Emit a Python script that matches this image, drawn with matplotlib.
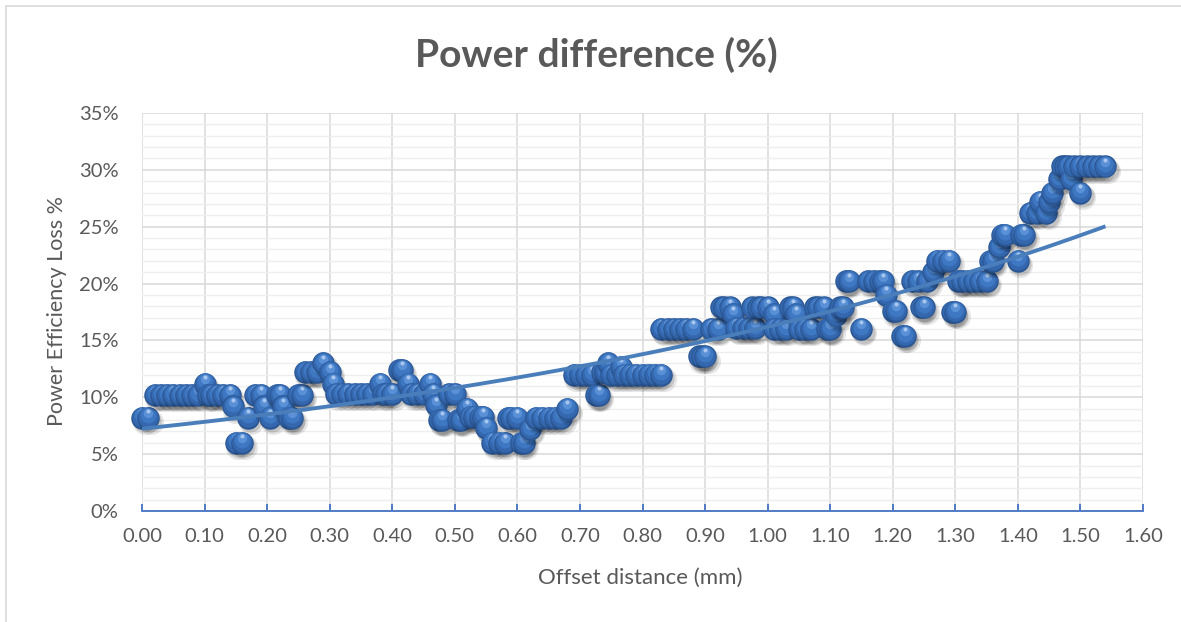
import matplotlib
matplotlib.use("Agg")
import matplotlib.pyplot as plt
import numpy as np
from matplotlib.ticker import MultipleLocator, PercentFormatter
from matplotlib.transforms import offset_copy
from matplotlib.patches import Rectangle

# offset distance (mm) and measured power efficiency loss (%)
offset_mm = [
    0.00, 0.01, 0.02, 0.03, 0.04, 0.05, 0.06, 0.07, 0.08, 0.09,
    0.10, 0.105, 0.11, 0.12, 0.13, 0.14, 0.145, 0.15, 0.16,
    0.17, 0.18, 0.19, 0.195, 0.205, 0.215, 0.22, 0.225, 0.235, 0.24,
    0.25, 0.255, 0.26, 0.27, 0.28, 0.29, 0.30, 0.305,
    0.31, 0.32, 0.33, 0.34, 0.35, 0.36, 0.37, 0.38, 0.385, 0.39, 0.40,
    0.41, 0.415, 0.425, 0.43, 0.44, 0.45, 0.46, 0.465, 0.47, 0.475, 0.48,
    0.49, 0.50, 0.505, 0.51, 0.52, 0.525, 0.53, 0.54, 0.545,
    0.55, 0.56, 0.57, 0.58, 0.585, 0.59, 0.60, 0.605, 0.61, 0.62,
    0.63, 0.64, 0.65, 0.66, 0.67, 0.68, 0.69, 0.70, 0.71, 0.72,
    0.725, 0.73, 0.735, 0.74, 0.745, 0.75, 0.76, 0.765,
    0.77, 0.78, 0.79, 0.80, 0.81, 0.82, 0.83,
    0.83, 0.84, 0.85, 0.86, 0.87, 0.88, 0.89, 0.895, 0.90, 0.91, 0.92,
    0.925, 0.93, 0.94, 0.945, 0.95, 0.96, 0.97, 0.98,
    0.975, 0.985, 0.99, 1.00, 1.01, 1.01, 1.02, 1.03,
    1.035, 1.04, 1.045, 1.05, 1.06, 1.07, 1.075, 1.08, 1.09,
    1.095, 1.10, 1.11, 1.115, 1.12, 1.125, 1.13, 1.15,
    1.16, 1.17, 1.18, 1.185, 1.19, 1.20, 1.205, 1.215, 1.22,
    1.23, 1.24, 1.245, 1.25, 1.255, 1.265, 1.27, 1.28, 1.29, 1.295, 1.30,
    1.305, 1.31, 1.32, 1.33, 1.34, 1.35, 1.355, 1.36, 1.37,
    1.375, 1.38, 1.40, 1.405, 1.41, 1.42, 1.43, 1.435, 1.445, 1.45, 1.455,
    1.465, 1.47, 1.475, 1.48, 1.485, 1.50,
    1.49, 1.50, 1.51, 1.52, 1.53, 1.54,
]
loss_pct = [
    8.2, 8.2, 10.2, 10.2, 10.2, 10.2, 10.2, 10.2, 10.2, 10.2,
    11.2, 10.2, 10.2, 10.2, 10.2, 10.2, 9.2, 6.0, 6.0,
    8.2, 10.2, 10.2, 9.2, 8.2, 10.2, 10.2, 9.2, 8.2, 8.2,
    10.2, 10.2, 12.2, 12.2, 12.2, 13.0, 12.2, 11.2,
    10.3, 10.3, 10.3, 10.3, 10.3, 10.3, 10.3, 11.2, 10.3, 10.3, 10.3,
    12.4, 12.4, 11.2, 10.3, 10.3, 10.3, 11.2, 10.3, 9.3, 8.0, 8.0,
    10.3, 10.3, 8.0, 8.0, 9.0, 8.3, 8.3, 8.3, 8.3,
    7.3, 6.0, 6.0, 6.0, 8.2, 8.2, 8.2, 6.0, 6.0, 7.2,
    8.2, 8.2, 8.2, 8.2, 8.2, 9.0, 12.0, 12.0, 12.0, 12.0,
    10.2, 10.2, 12.2, 12.2, 13.0, 12.0, 12.0, 12.7,
    12.0, 12.0, 12.0, 12.0, 12.0, 12.0, 12.0,
    16.0, 16.0, 16.0, 16.0, 16.0, 16.0, 13.6, 13.6, 13.6, 16.0, 16.0,
    17.9, 17.9, 17.9, 17.3, 16.1, 16.1, 16.1, 16.1,
    17.9, 17.9, 17.9, 17.9, 17.3, 16.0, 16.0, 16.0,
    17.9, 17.9, 17.3, 16.0, 16.0, 16.0, 17.9, 17.9, 17.9,
    16.0, 16.0, 17.2, 17.9, 17.9, 20.2, 20.2, 16.0,
    20.2, 20.2, 20.2, 20.2, 19.0, 17.6, 17.6, 15.4, 15.4,
    20.2, 20.2, 17.9, 17.9, 20.2, 21.0, 22.0, 22.0, 22.0, 17.5, 17.5,
    20.2, 20.2, 20.2, 20.2, 20.2, 20.2, 22.0, 22.0, 23.2,
    24.3, 24.3, 22.0, 24.3, 24.3, 26.2, 26.2, 27.2, 26.2, 27.2, 28.0,
    29.2, 30.3, 30.3, 30.3, 29.2, 28.0,
    30.3, 30.3, 30.3, 30.3, 30.3, 30.3,
]

x_ticks = [0.0, 0.1, 0.2, 0.3, 0.4, 0.5, 0.6, 0.7, 0.8, 0.9,
           1.0, 1.1, 1.2, 1.3, 1.4, 1.5, 1.6]

GRAY = "#595959"
FONT = "Lato"

W, H = 1181, 622
fig = plt.figure(figsize=(W / 100, H / 100), dpi=100)
ax = fig.add_axes([142 / W, 1 - 511 / H, (1143 - 142) / W, (511 - 113) / H])

ax.set_xlim(0, 1.6)
ax.set_ylim(0, 35)
ax.set_xticks(x_ticks)
ax.set_xticklabels([f"{t:.2f}" for t in x_ticks])
ax.yaxis.set_major_locator(MultipleLocator(5))
ax.yaxis.set_minor_locator(MultipleLocator(1))
ax.yaxis.set_major_formatter(PercentFormatter(xmax=100, decimals=0))

ax.grid(which="major", axis="both", color="#d9d9d9", lw=1.1, zorder=0)
ax.grid(which="minor", axis="y", color="#eeeeee", lw=1.0, zorder=0)
ax.set_axisbelow(True)

for side in ["top", "right", "left"]:
    ax.spines[side].set_visible(False)
ax.spines["bottom"].set_color("#4472c4")
ax.spines["bottom"].set_linewidth(1.3)
ax.spines["bottom"].set_zorder(1)

ax.tick_params(axis="x", which="major", direction="in", length=5, width=1.3,
               color="#4472c4", pad=12, labelsize=14.5, labelcolor=GRAY)
ax.tick_params(axis="y", which="both", length=0, pad=17, labelsize=14.5,
               labelcolor=GRAY)
for lab in ax.get_xticklabels() + ax.get_yticklabels():
    lab.set_fontfamily(FONT)

# sphere-like markers: shadow, body, shading, highlight (in points)
layers = [
    # color, diameter, dx, dy
    ((0, 0, 0, 0.10), 18.0, 1.8, -3.0),
    ((0, 0, 0, 0.14), 16.0, 1.5, -2.6),
    ("#2a5693", 16.2, 0, 0),
    ("#3467ad", 14.6, 0, 0.6),
    ("#3e78c2", 11.5, 0, 1.7),
    ("#5a91d6", 6.8, 0, 3.3),
    ("#a9c7ee", 2.9, 0, 4.8),
]
trans = [offset_copy(ax.transData, fig=fig, x=dx, y=dy, units="points")
         for _, _, dx, dy in layers]

for i, (xv, yv) in enumerate(zip(offset_mm, loss_pct)):
    for j, (col, d, dx, dy) in enumerate(layers):
        ax.plot([xv], [yv], "o", ms=d, color=col, mec="none",
                transform=trans[j], zorder=2 + i * 0.01 + j * 0.001,
                clip_on=False)

# exponential trendline (least squares on log values, as Excel does)
xs = np.asarray(offset_mm)
ys = np.asarray(loss_pct)
b, log_a = np.polyfit(xs, np.log(ys), 1)
xt = np.linspace(xs.min(), xs.max(), 200)
ax.plot(xt, np.exp(log_a) * np.exp(b * xt), color="#4a7ebb", lw=2.8,
        zorder=10, solid_capstyle="butt")

fig.text(0.505, 1 - 55 / H, "Power difference (%)", ha="center",
         va="center", fontsize=28, fontweight="bold", color=GRAY,
         family=FONT)
fig.text(640 / W, 1 - 578 / H, "Offset distance (mm)", ha="center",
         va="center", fontsize=16, color=GRAY, family=FONT)
fig.text(57 / W, 1 - 311 / H, "Power Efficiency Loss %", ha="center",
         va="center", rotation=90, fontsize=15.5, color=GRAY, family=FONT)

# chart frame
fig.patches.append(Rectangle((6 / W, -0.1), 1.2, 1 - 6 / H + 0.1,
                             transform=fig.transFigure, fill=False,
                             edgecolor="#d9d9d9", lw=1.2))

fig.savefig("out.png", dpi=100)
